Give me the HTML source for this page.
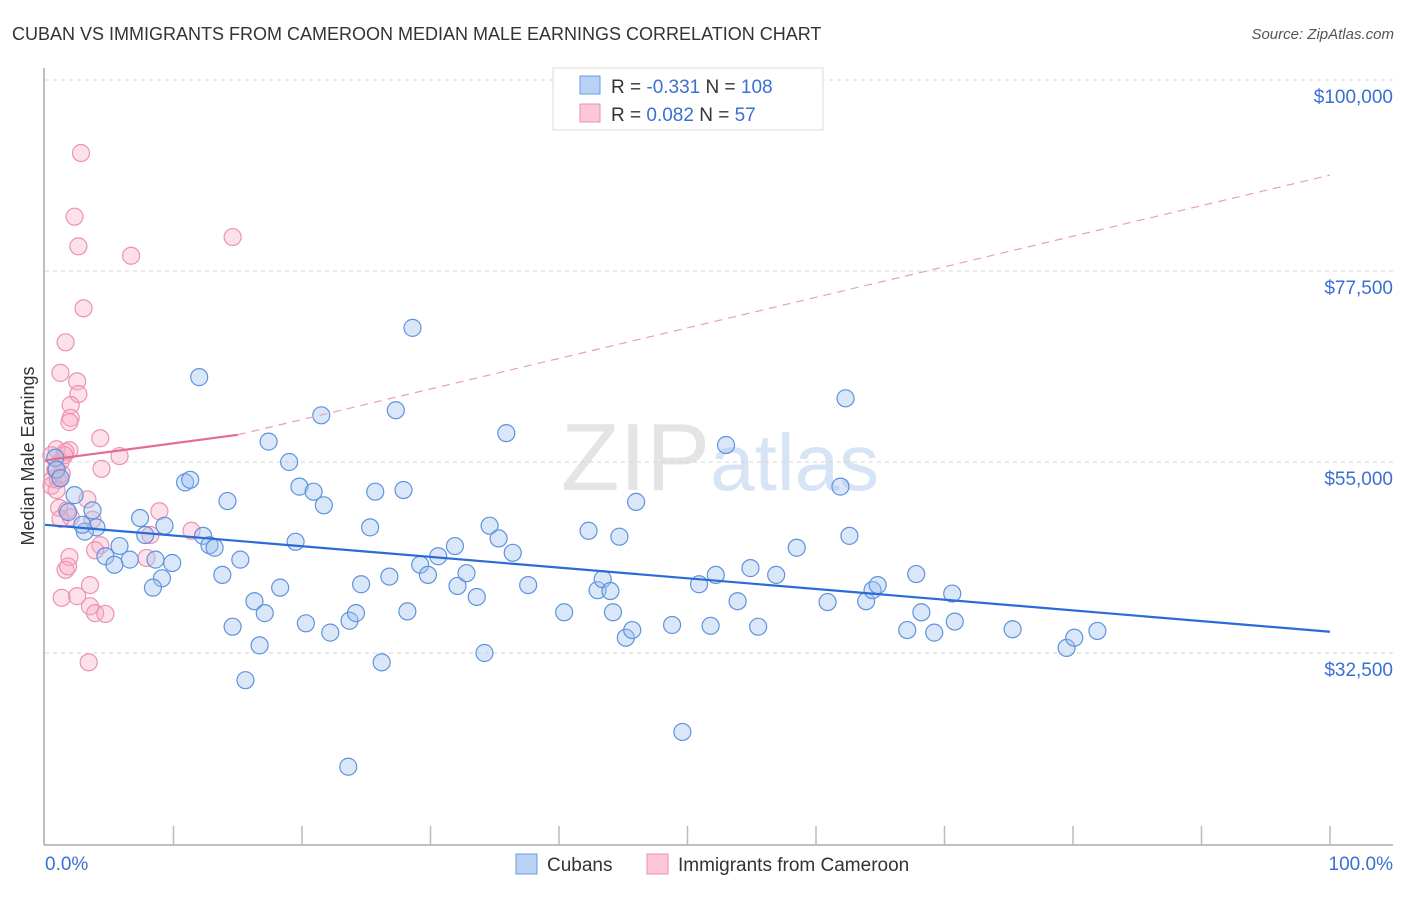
<!DOCTYPE html>
<html><head><meta charset="utf-8"><style>
body{margin:0;background:#fff;font-family:"Liberation Sans",sans-serif;}
svg text{font-family:"Liberation Sans",sans-serif;}
</style></head><body>
<svg id="chart" width="1406" height="892" viewBox="0 0 1406 892" xmlns="http://www.w3.org/2000/svg">
<text x="12" y="40" font-size="18" fill="#333">CUBAN VS IMMIGRANTS FROM CAMEROON MEDIAN MALE EARNINGS CORRELATION CHART</text>
<text x="1394" y="39" font-size="15" fill="#555" text-anchor="end" font-style="italic">Source: ZipAtlas.com</text>
<text x="720" y="490" font-size="96" text-anchor="middle" fill="#e4e4e4" font-family="Liberation Serif,serif">ZIP<tspan fill="#d6e4f5" font-family="Liberation Sans,sans-serif" font-size="80">atlas</tspan></text>
<g id="grid"></g>
<g id="axes"></g>
<g id="pts"></g>
<g id="trends"></g>
<text transform="translate(34,456) rotate(-90)" font-size="18" fill="#333" text-anchor="middle">Median Male Earnings</text>
<text x="45" y="870" font-size="19" fill="#3b6fd4">0.0%</text>
<text x="1393" y="870" font-size="19" fill="#3b6fd4" text-anchor="end">100.0%</text>
<g>
<rect x="553" y="68" width="270" height="62" fill="#fff" stroke="#ddd"/>
<rect x="580" y="76" width="20" height="18" fill="#b8d2f5" stroke="#6a9be0"/>
<rect x="580" y="104" width="20" height="18" fill="#fcc8d8" stroke="#e890ad"/>
<text x="611" y="93" font-size="19" fill="#333">R = <tspan fill="#3b6fd4">-0.331</tspan>   N = <tspan fill="#3b6fd4">108</tspan></text>
<text x="611" y="121" font-size="19" fill="#333">R = <tspan fill="#3b6fd4"> 0.082</tspan>   N = <tspan fill="#3b6fd4">  57</tspan></text>
</g>
<g>
<rect x="516" y="854" width="21" height="20" fill="#b8d2f5" stroke="#6a9be0"/>
<text x="547" y="871" font-size="19" fill="#333">Cubans</text>
<rect x="647" y="854" width="21" height="20" fill="#fcc8d8" stroke="#e890ad"/>
<text x="678" y="871" font-size="19" fill="#333">Immigrants from Cameroon</text>
</g>
</svg>
<script>
const yTicks=[100,77.5,55,32.5];
const yTickLabels=["$100,000","$77,500","$55,000","$32,500"];
const cubanX=[0.8,0.9,1.2,2.3,1.8,3.7,4.0,3.1,2.9,7.4,9.3,7.8,5.8,4.7,6.6,5.4,8.6,9.9,9.1,8.4,10.9,11.3,12.0,12.3,12.8,13.2,14.2,13.8,15.2,14.6,15.6,16.3,16.7,17.1,18.3,17.4,19.0,19.5,19.8,20.9,20.3,21.7,21.5,22.2,23.6,23.7,24.2,24.6,25.3,25.7,26.2,26.8,27.3,27.9,28.2,28.6,29.2,29.8,30.6,31.9,32.1,32.8,33.6,34.2,34.6,35.3,35.9,36.4,37.6,40.4,42.3,43.0,43.4,44.0,44.2,44.7,45.2,45.7,46.0,48.8,49.6,50.9,51.8,52.2,53.0,53.9,54.9,55.5,56.9,58.5,60.9,61.9,62.3,62.6,63.9,64.4,64.8,67.1,67.8,68.2,69.2,70.8,70.6,75.3,79.5,80.1,81.9];
const cubanY=[55.5,54.1,53.1,51.1,49.1,49.3,47.3,46.8,47.6,48.4,47.5,46.4,45.1,43.9,43.5,42.9,43.5,43.1,41.3,40.2,52.6,52.9,65.0,46.3,45.2,44.9,50.4,41.7,43.5,35.6,29.3,38.6,33.4,37.2,40.2,57.4,55.0,45.6,52.1,51.5,36.0,49.9,60.5,34.9,19.1,36.3,37.2,40.6,47.3,51.5,31.4,41.5,61.1,51.7,37.4,70.8,42.9,41.7,43.9,45.1,40.4,41.9,39.1,32.5,47.5,46.0,58.4,44.3,40.5,37.3,46.9,39.9,41.2,39.8,37.3,46.2,34.3,35.2,50.3,35.8,23.2,40.6,35.7,41.7,57.0,38.6,42.5,35.6,41.7,44.9,38.5,52.1,62.5,46.3,38.6,39.9,40.5,35.2,41.8,37.3,34.9,36.2,39.5,35.3,33.1,34.3,35.1];
const camX=[2.8,2.3,2.6,6.7,14.6,3.0,1.6,1.2,2.5,2.6,2.0,2.0,1.9,4.3,0.9,1.9,0.5,1.2,1.6,0.9,4.4,5.8,0.6,1.2,0.5,3.3,1.1,1.7,2.0,1.2,3.7,8.9,11.4,8.2,7.9,4.3,3.9,1.9,1.6,1.8,3.5,1.3,2.5,3.5,3.9,4.7,3.4,1.0,0.9,0.8,1.3,1.5];
const camY=[91.4,83.9,80.4,79.3,81.5,73.1,69.1,65.5,64.5,63.0,61.7,60.2,59.7,57.8,56.5,56.4,55.8,55.0,56.2,54.1,54.2,55.7,53.0,53.1,52.2,50.6,49.6,49.3,48.5,48.3,48.2,49.2,46.9,46.4,43.7,45.2,44.6,43.8,42.3,42.7,40.5,39.0,39.2,38.0,37.2,37.1,31.4,52.9,51.7,54.1,53.6,55.8];
const cubanTrend=[[0,47.6],[100,35.0]];
const camTrendSolid=[[0,55.2],[15,58.2]];
const camTrendDash=[[15,58.2],[100,88.8]];
const NS="http://www.w3.org/2000/svg";
const sx=p=>45+p*12.85;
const sy=v=>80+(100-v)*191/22.5;
function mk(tag,attrs,parent){const e=document.createElementNS(NS,tag);for(const k in attrs)e.setAttribute(k,attrs[k]);parent.appendChild(e);return e;}
const grid=document.getElementById('grid'),axes=document.getElementById('axes'),pts=document.getElementById('pts'),tr=document.getElementById('trends');
yTicks.forEach((t,i)=>{
 const l=mk('line',{x1:45,x2:1393,y1:sy(t),y2:sy(t),stroke:'#d4d4d4','stroke-dasharray':'4,4'},grid);
 
 
 const tx=mk('text',{x:1393,y:sy(t)+23,'font-size':19,fill:'#3b6fd4','text-anchor':'end'},grid);
 tx.textContent=yTickLabels[i];
 
 
});
let a=mk('line',{x1:44,x2:44,y1:68,y2:845,stroke:'#aaa','stroke-width':1.5},axes);


a=mk('line',{x1:44,x2:1393,y1:845,y2:845,stroke:'#aaa','stroke-width':1.5},axes);


for(let i=1;i<=10;i++){
 const t=mk('line',{x1:sx(i*10),x2:sx(i*10),y1:826,y2:845,stroke:'#bbb','stroke-width':1.5},axes);
 
 
}
camX.forEach((x,i)=>{
 const c=mk('circle',{cx:sx(x),cy:sy(camY[i]),r:8.5,fill:'rgba(248,170,195,0.35)',stroke:'#eb93b1','stroke-width':1.2},pts);
 
 
});
cubanX.forEach((x,i)=>{
 const c=mk('circle',{cx:sx(x),cy:sy(cubanY[i]),r:8.5,fill:'rgba(160,195,240,0.4)',stroke:'#5f93dd','stroke-width':1.2},pts);
 
 
});
function line(d,attrs,name){const l=mk('line',Object.assign({x1:sx(d[0][0]),y1:sy(d[0][1]),x2:sx(d[1][0]),y2:sy(d[1][1])},attrs),tr);}
line(cubanTrend,{stroke:'#2a6bd6','stroke-width':2.2},'cuban-trend-line');
line(camTrendSolid,{stroke:'#e56b96','stroke-width':2.2},'cameroon-trend-line');
line(camTrendDash,{stroke:'#e8a0b8','stroke-width':1.2,'stroke-dasharray':'8,6'},'cameroon-trend-extension');
</script>
</body></html>
